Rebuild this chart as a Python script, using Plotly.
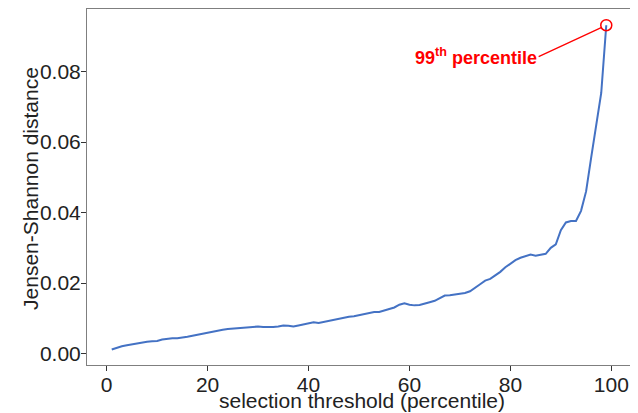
import plotly.graph_objects as go

# selection threshold (percentile) and Jensen-Shannon distance
thresholds = list(range(1, 100))
js_distance = [
    0.0012, 0.0017, 0.0021, 0.0024, 0.0027, 0.0030, 0.0032, 0.0034, 0.0035, 0.0036,
    0.0040, 0.0043, 0.0044, 0.0044, 0.0045, 0.0048, 0.0051, 0.0054, 0.0058, 0.0061,
    0.0064, 0.0066, 0.0068, 0.0070, 0.0071, 0.0072, 0.0074, 0.0075, 0.0077, 0.0077,
    0.0076, 0.0075, 0.0076, 0.0077, 0.0080, 0.0079, 0.0077, 0.0080, 0.0083, 0.0087,
    0.0089, 0.0087, 0.0090, 0.0093, 0.0096, 0.0100, 0.0103, 0.0105, 0.0106, 0.0109,
    0.0113, 0.0116, 0.0118, 0.0118, 0.0123, 0.0128, 0.0131, 0.0139, 0.0143, 0.0139,
    0.0137, 0.0138, 0.0141, 0.0146, 0.0150, 0.0158, 0.0165, 0.0166, 0.0168, 0.0170,
    0.0172, 0.0177, 0.0186, 0.0197, 0.0207, 0.0212, 0.0222, 0.0232, 0.0245, 0.0256,
    0.0265, 0.0272, 0.0276, 0.0281, 0.0278, 0.0281, 0.0283, 0.0300, 0.0310, 0.0350,
    0.0372, 0.0376, 0.0376, 0.0405, 0.0460, 0.0555, 0.0645, 0.0739, 0.0931,
]

highlight_x = 99
highlight_y = js_distance[-1]
label_x = 85.6
label_y = 0.0842

FONT = "Liberation Sans, Arial, sans-serif"

fig = go.Figure()
fig.add_trace(go.Scatter(
    x=thresholds, y=js_distance, mode="lines",
    line=dict(color="#4472C4", width=2),
    showlegend=False,
))
fig.add_trace(go.Scatter(
    x=[highlight_x], y=[highlight_y], mode="markers",
    marker=dict(symbol="circle-open", size=11, color="red", line=dict(width=1.5, color="red")),
    showlegend=False,
))
# label sits left of the point; the leader line starts at the label's right edge
fig.add_annotation(
    x=highlight_x, y=highlight_y, xref="x", yref="y",
    ax=label_x, ay=label_y, axref="x", ayref="y",
    xanchor="right", yanchor="middle",
    text="<b>99<sup>th</sup> percentile</b>",
    font=dict(family=FONT, size=18, color="red"),
    showarrow=True, arrowhead=0, arrowwidth=1.3, arrowcolor="red", standoff=5,
)

# axis titles as paper annotations so they sit where the reference has them
fig.add_annotation(
    x=0.505, y=-0.101, xref="paper", yref="paper", showarrow=False,
    xanchor="center", yanchor="middle",
    text="selection threshold (percentile)",
    font=dict(family=FONT, size=21, color="#222222"),
)
fig.add_annotation(
    x=-0.105, y=0.497, xref="paper", yref="paper", showarrow=False,
    xanchor="center", yanchor="middle",
    text="Jensen-Shannon distance", textangle=-90,
    font=dict(family=FONT, size=21, color="#222222"),
)

axis_common = dict(
    showgrid=False, zeroline=False, automargin=False,
    showline=True, linecolor="#7f7f7f", linewidth=1, mirror=True,
    ticks="outside", ticklen=5, tickcolor="#333333",
    tickfont=dict(family=FONT, size=21, color="#222222"),
)

# the page body adds an 8px offset, so the figure is sized to fit the window
fig.update_layout(
    width=630, height=405,
    paper_bgcolor="white", plot_bgcolor="white",
    margin=dict(l=79, r=7, t=1, b=48, autoexpand=False),
    font=dict(family=FONT, color="#222222"),
    xaxis=dict(
        **axis_common, range=[-3.9, 103.9], tickvals=[0, 20, 40, 60, 80, 100],
        ticklabelstandoff=-4,
    ),
    yaxis=dict(
        **axis_common, range=[-0.0032, 0.0977], tickvals=[0, 0.02, 0.04, 0.06, 0.08],
        tickformat=".2f", ticklabelstandoff=-4,
    ),
)

fig.write_html("out.html")
